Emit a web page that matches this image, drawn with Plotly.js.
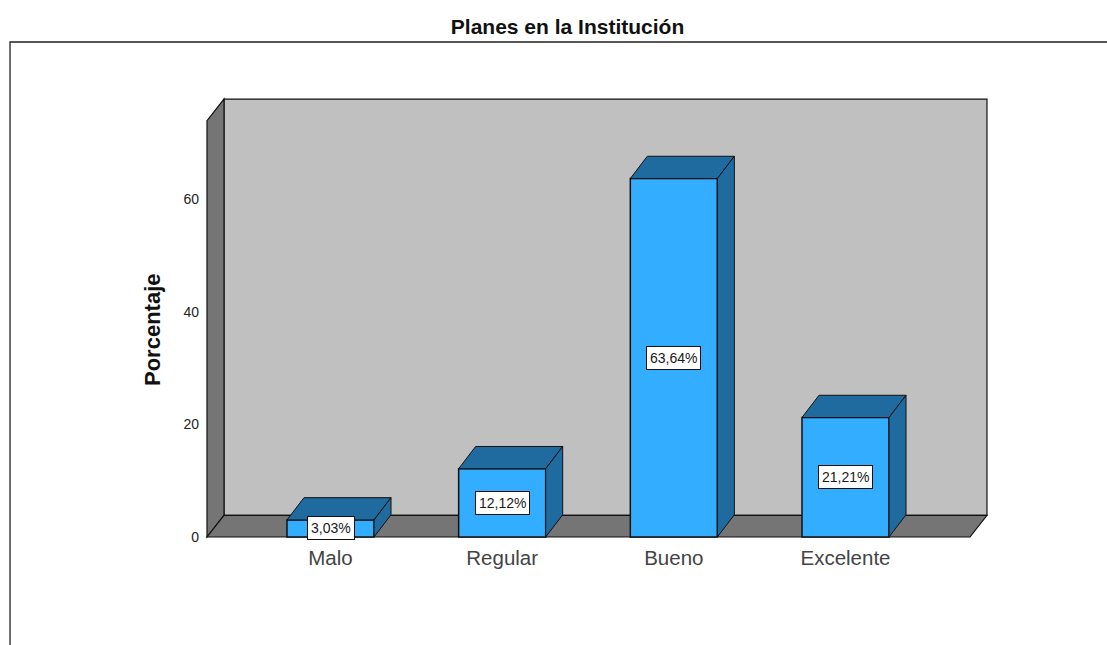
<!DOCTYPE html>
<html>
<head>
<meta charset="utf-8">
<script src="https://cdn.plot.ly/plotly-3.0.1.min.js"></script>
<style>html,body{margin:0;padding:0;background:#fff;overflow:hidden}</style>
</head>
<body>
<div id="chart" style="width:1107px;height:645px"></div>
<script>
const categories = ["Malo", "Regular", "Bueno", "Excelente"];
const values = [3.03, 12.12, 63.64, 21.21];
const labels = ["3,03%", "12,12%", "63,64%", "21,21%"];
const yTicks = [0, 20, 40, 60];

const FRONT = "#33ADFF", DARK = "#1F6A9E", WALL = "#757575", BACK = "#C0C0C0", EDGE = "#111111";
const barWidth = 0.507;
const depthX = 0.099, depthY = 3.85, barDepthY = 3.95;   // oblique depth, in axis units
const xRange = [-0.7427, 3.8475], yRange = [-0.71, 78.47];
const boxLeft = -0.7194, boxRight = 3.8241, boxTop = 77.75;

const positions = categories.map((_, i) => i);
const traces = [];

traces.push({
  type: "bar", x: positions, y: values, width: barWidth,
  marker: {color: FRONT, line: {color: EDGE, width: 1.5}},
  hoverinfo: "skip", showlegend: false
});

positions.forEach((p, i) => {
  const l = p - barWidth / 2, r = p + barWidth / 2, v = values[i];
  const face = (xs, ys) => ({
    type: "scatter", mode: "lines", x: xs, y: ys, fill: "toself", fillcolor: DARK,
    line: {color: EDGE, width: 1}, hoverinfo: "skip", showlegend: false
  });
  traces.push(face([l, l + depthX, r + depthX, r, l], [v, v + barDepthY, v + barDepthY, v, v]));
  traces.push(face([r, r + depthX, r + depthX, r, r], [0, barDepthY, v + barDepthY, v, 0]));
});

const poly = (pts, fill) => ({
  type: "path", xref: "x", yref: "y", layer: "below",
  path: "M" + pts.map(p => p[0] + "," + p[1]).join(" L") + " Z",
  fillcolor: fill, line: {color: EDGE, width: 1.2}
});

const frontRight = boxRight - depthX, backLeft = boxLeft + depthX;
const shapes = [
  poly([[backLeft, depthY], [boxRight, depthY], [boxRight, boxTop], [backLeft, boxTop]], BACK),
  poly([[boxLeft, 0], [backLeft, depthY], [backLeft, boxTop], [boxLeft, boxTop - depthY]], WALL),
  poly([[boxLeft, 0], [frontRight, 0], [boxRight, depthY], [backLeft, depthY]], WALL),
  {type: "rect", xref: "paper", yref: "paper", layer: "below",
   x0: -0.2449, x1: 1.2, y0: -0.3, y1: 1.1188,
   fillcolor: "rgba(0,0,0,0)", line: {color: "#222", width: 1.3}}
];

const annotations = positions.map((p, i) => ({
  x: p, y: values[i] / 2, xref: "x", yref: "y", text: labels[i], showarrow: false,
  font: {family: "Liberation Sans, Arial, sans-serif", size: 14, color: "#1a1a1a"},
  bgcolor: "#fff", bordercolor: EDGE, borderwidth: 1, borderpad: 3
}));
annotations.push({
  xref: "paper", yref: "paper", x: -0.0825, y: 0.4742, text: "<b>Porcentaje</b>", textangle: -90,
  showarrow: false, font: {family: "Liberation Sans, Arial, sans-serif", size: 22, color: "#111"}
});

const layout = {
  width: 1107, height: 645,
  margin: {l: 203, r: 116, t: 95, b: 104, pad: 0},
  paper_bgcolor: "#fff", plot_bgcolor: "rgba(0,0,0,0)",
  font: {family: "Liberation Sans, Arial, sans-serif", color: "#222"},
  title: {text: "<b>Planes en la Institución</b>", font: {size: 21, color: "#111"},
          x: 0.4626, xref: "paper", xanchor: "center", y: 0.959, yanchor: "middle"},
  xaxis: {range: xRange, tickmode: "array", tickvals: positions, ticktext: categories,
          showgrid: false, zeroline: false, showline: false, ticks: "", ticklabelstandoff: 2,
          tickfont: {size: 20.5, color: "#444"}, fixedrange: true},
  yaxis: {range: yRange, tickmode: "array", tickvals: yTicks, showgrid: false, zeroline: false,
          showline: false, ticks: "", ticklabelstandoff: 3,
          tickfont: {size: 14, color: "#222"}, fixedrange: true},
  showlegend: false, bargap: 0, shapes, annotations
};

Plotly.newPlot("chart", traces, layout, {displayModeBar: false, staticPlot: true});
</script>
</body>
</html>
